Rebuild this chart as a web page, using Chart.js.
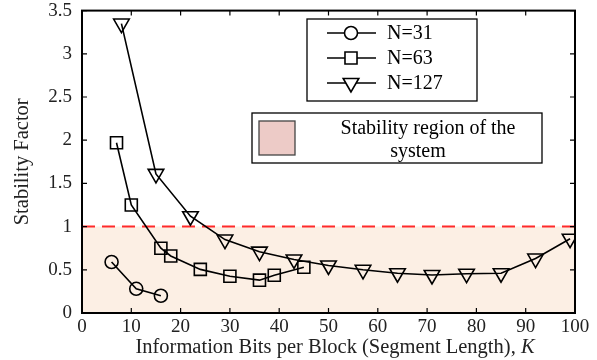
<!DOCTYPE html>
<html>
<head>
<meta charset="utf-8">
<script src="https://cdn.jsdelivr.net/npm/chart.js@4/dist/chart.umd.min.js"></script>
<style>
  html, body { margin: 0; padding: 0; background: #fff; }
  #wrap { width: 597px; height: 360px; }
</style>
</head>
<body>
<div id="wrap"><canvas id="chart" width="597" height="360"></canvas></div>
<script>
// BCH code lengths / dimensions
var kN31 = [6, 11, 16];
var sfN31 = [0.59, 0.28, 0.20];

var kN63 = [7, 10, 16, 18, 24, 30, 36, 39, 45];
var sfN63 = [1.97, 1.25, 0.75, 0.66, 0.505, 0.425, 0.38, 0.437, 0.53];

var kN127 = [8, 15, 22, 29, 36, 43, 50, 57, 64, 71, 78, 85, 92, 99];
var sfN127 = [3.35, 1.61, 1.12, 0.85, 0.71, 0.62, 0.55, 0.50, 0.46, 0.44, 0.455, 0.46, 0.63, 0.86];

var stableLimit = 1;
var seriesLabels = ['N=31', 'N=63', 'N=127'];
var regionLabel = ['Stability region of the', 'system'];
var xTitle = 'Information Bits per Block (Segment Length), ';
var xTitleVar = 'K';
var yTitle = 'Stability Factor';

var serif = '"Liberation Serif", "Times New Roman", serif';

function toPoints(xs, ys) {
  return xs.map(function (x, i) { return { x: x, y: ys[i] }; });
}

var markerStyles = [
  { pointStyle: 'circle', pointRadius: 6.5, pointRotation: 0 },
  { pointStyle: 'rect', pointRadius: 8.5, pointRotation: 0 },
  { pointStyle: 'triangle', pointRadius: 9, pointRotation: 180 }
];

function lineSet(label, xs, ys, m) {
  return {
    label: label,
    data: toPoints(xs, ys),
    borderColor: '#000',
    borderWidth: 1.6,
    backgroundColor: 'rgba(0,0,0,0)',
    pointBorderColor: '#000',
    pointBorderWidth: 1.6,
    pointBackgroundColor: 'rgba(0,0,0,0)',
    pointStyle: m.pointStyle,
    pointRadius: m.pointRadius,
    pointRotation: m.pointRotation,
    fill: false,
    tension: 0
  };
}

// inward ticks on all four sides + box outline + axis titles
var boxTicks = {
  id: 'boxTicks',
  afterDatasetsDraw: function (chart) {
    var ctx = chart.ctx, a = chart.chartArea;
    var xs = chart.scales.x, ys = chart.scales.y;
    var len = 5;
    ctx.save();
    ctx.strokeStyle = '#000';
    ctx.lineWidth = 1.2;
    ctx.beginPath();
    xs.ticks.forEach(function (t) {
      var px = xs.getPixelForValue(t.value);
      ctx.moveTo(px, a.bottom); ctx.lineTo(px, a.bottom - len);
      ctx.moveTo(px, a.top); ctx.lineTo(px, a.top + len);
    });
    ys.ticks.forEach(function (t) {
      var py = ys.getPixelForValue(t.value);
      ctx.moveTo(a.left, py); ctx.lineTo(a.left + len, py);
      ctx.moveTo(a.right, py); ctx.lineTo(a.right - len, py);
    });
    ctx.stroke();
    ctx.lineWidth = 2;
    ctx.strokeRect(a.left, a.top, a.right - a.left, a.bottom - a.top);

    // x title with italic K
    ctx.fillStyle = '#222';
    ctx.textBaseline = 'middle';
    ctx.textAlign = 'left';
    ctx.font = '20.5px ' + serif;
    var w1 = ctx.measureText(xTitle).width;
    ctx.font = 'italic 20.5px ' + serif;
    var w2 = ctx.measureText(xTitleVar).width;
    var x0 = 335 - (w1 + w2) / 2;
    ctx.font = '20.5px ' + serif;
    ctx.fillText(xTitle, x0, 348);
    ctx.font = 'italic 20.5px ' + serif;
    ctx.fillText(xTitleVar, x0 + w1, 348);

    // y title
    ctx.translate(23, (a.top + a.bottom) / 2);
    ctx.rotate(-Math.PI / 2);
    ctx.textAlign = 'center';
    ctx.font = '20.5px ' + serif;
    ctx.fillText(yTitle, 0, 0);
    ctx.restore();
  }
};

// the two legend boxes
var boxLegend = {
  id: 'boxLegend',
  afterDraw: function (chart) {
    var ctx = chart.ctx;
    ctx.save();
    ctx.strokeStyle = '#000';
    ctx.lineWidth = 1.3;
    ctx.fillStyle = '#fff';
    ctx.fillRect(307, 19, 170, 82);
    ctx.strokeRect(307, 19, 170, 82);
    ctx.font = '20px ' + serif;
    ctx.textBaseline = 'middle';
    ctx.textAlign = 'left';
    var rows = [33, 58, 83];
    seriesLabels.forEach(function (lab, i) {
      var y = rows[i];
      ctx.strokeStyle = '#000';
      ctx.lineWidth = 1.6;
      ctx.beginPath();
      ctx.moveTo(327, y); ctx.lineTo(376, y);
      ctx.stroke();
      var m = markerStyles[i];
      ctx.fillStyle = '#fff';
      Chart.helpers.drawPoint(ctx, {
        pointStyle: m.pointStyle, radius: m.pointRadius, rotation: m.pointRotation, borderWidth: 1.6
      }, 351, y);
      ctx.fillStyle = '#000';
      ctx.fillText(lab, 387, y + 1);
    });

    ctx.fillStyle = '#fff';
    ctx.lineWidth = 1.3;
    ctx.fillRect(252, 113, 290, 50);
    ctx.strokeRect(252, 113, 290, 50);
    ctx.fillStyle = '#edcbc7';
    ctx.fillRect(259, 121, 36, 34);
    ctx.strokeStyle = '#444';
    ctx.strokeRect(259, 121, 36, 34);
    ctx.fillStyle = '#000';
    ctx.textAlign = 'center';
    ctx.font = '20px ' + serif;
    ctx.fillText(regionLabel[0], 428, 129);
    ctx.fillText(regionLabel[1], 418, 152);
    ctx.restore();
  }
};

var ctx = document.getElementById('chart').getContext('2d');
var chart = new Chart(ctx, {
  type: 'line',
  data: {
    datasets: [
      lineSet(seriesLabels[0], kN31, sfN31, markerStyles[0]),
      lineSet(seriesLabels[1], kN63, sfN63, markerStyles[1]),
      lineSet(seriesLabels[2], kN127, sfN127, markerStyles[2]),
      {
        label: 'region',
        data: [{ x: 0, y: stableLimit }, { x: 100, y: stableLimit }],
        borderColor: '#ff2a2a',
        borderWidth: 2,
        borderDash: [13, 7],
        backgroundColor: '#fcefe4',
        fill: 'origin',
        pointRadius: 0,
        tension: 0
      }
    ]
  },
  options: {
    responsive: false,
    animation: false,
    layout: { padding: { top: 10, right: 22, left: 0, bottom: 0 } },
    plugins: {
      legend: { display: false },
      tooltip: { enabled: false }
    },
    scales: {
      x: {
        type: 'linear',
        min: 0, max: 100,
        ticks: {
          stepSize: 10, color: '#222', padding: 3, maxRotation: 0,
          font: { family: serif, size: 19 },
          callback: function (v) { return String(v); }
        },
        grid: { display: false, drawTicks: false },
        border: { display: false },
        afterFit: function (s) { s.height = 47; s.paddingLeft = 0; s.paddingRight = 0; }
      },
      y: {
        min: 0, max: 3.5,
        ticks: {
          stepSize: 0.5, color: '#222', padding: 10,
          font: { family: serif, size: 19 },
          callback: function (v) { return String(v); }
        },
        grid: { display: false, drawTicks: false },
        border: { display: false },
        afterFit: function (s) { s.width = 82; s.paddingTop = 0; s.paddingBottom = 0; }
      }
    }
  },
  plugins: [boxTicks, boxLegend]
});
</script>
</body>
</html>
